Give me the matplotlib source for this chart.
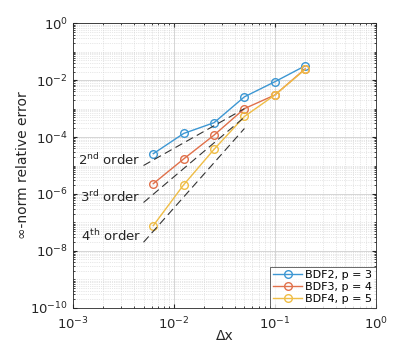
import matplotlib.pyplot as plt
from matplotlib.ticker import LogLocator, NullFormatter

# Данные сходимости
dx = [0.00625, 0.0125, 0.025, 0.05, 0.1, 0.2]
err_bdf2 = [2.6e-5, 1.34e-4, 3.2e-4, 2.6e-3, 8.8e-3, 3.2e-2]
err_bdf3 = [2.3e-6, 1.7e-5, 1.17e-4, 1.0e-3, 3.0e-3, 2.5e-2]
err_bdf4 = [7.7e-8, 2.1e-6, 3.7e-5, 5.3e-4, 3.0e-3, 2.4e-2]
labels = ['BDF2, p = 3', 'BDF3, p = 4', 'BDF4, p = 5']
colors = ['#3d97d3', '#e0704a', '#efbd45']

# Опорные линии порядка
ref_x = [5e-3, 5e-2]
ref_2 = [1e-5, 1e-3]
ref_3 = [5e-7, 5e-4]
ref_4 = [2e-8, 2e-4]
order_text = [r'2$^{\mathrm{nd}}$ order', r'3$^{\mathrm{rd}}$ order', r'4$^{\mathrm{th}}$ order']
order_y = [1.5e-5, 8.0e-7, 3.3e-8]

fig = plt.figure(figsize=(4.16, 3.47), dpi=100)
ax = fig.add_axes([73 / 416, 1 - 307.7 / 347, (375.7 - 73) / 416, (307.7 - 23.3) / 347])

for y, lab, c in zip([err_bdf2, err_bdf3, err_bdf4], labels, colors):
    ax.plot(dx, y, '-o', color=c, lw=1, ms=5.5, mfc='none', mew=1, label=lab)

for ry in [ref_2, ref_3, ref_4]:
    ax.plot(ref_x, ry, '--', color='#333333', lw=0.8, dashes=(7, 4))

for t, yy in zip(order_text, order_y):
    ax.text(4.7e-3, yy, t, ha='right', va='center', fontsize=9.5, color='#262626')

ax.set_xscale('log')
ax.set_yscale('log')
ax.set_xlim(1e-3, 1)
ax.set_ylim(1e-10, 1)

ax.set_yticks([1e-10, 1e-8, 1e-6, 1e-4, 1e-2, 1])
ax.yaxis.set_minor_locator(LogLocator(base=10, subs=[1, 2, 3, 4, 5, 6, 7, 8, 9], numticks=30))
ax.yaxis.set_minor_formatter(NullFormatter())
ax.xaxis.set_minor_locator(LogLocator(base=10, subs=[2, 3, 4, 5, 6, 7, 8, 9], numticks=30))
ax.xaxis.set_minor_formatter(NullFormatter())

ax.grid(True, which='major', color='#cfcfcf', lw=0.6, ls='-')
ax.grid(True, which='minor', color='#d0d0d0', lw=0.5, ls=':')
ax.set_axisbelow(True)

ax.tick_params(which='both', direction='in', top=True, right=True, colors='#262626', labelsize=9.5)
ax.tick_params(axis='x', which='major', pad=6)
ax.tick_params(which='major', length=3)
ax.tick_params(which='minor', length=1.5)
for s in ax.spines.values():
    s.set_color('#262626')
    s.set_linewidth(0.6)

ax.set_xlabel('Δx', fontsize=10, color='#262626')
ax.set_ylabel('∞-norm relative error', fontsize=10, color='#262626')
ax.xaxis.set_label_coords(0.5, -0.075)
ax.yaxis.set_label_coords(-0.142, 0.5)

leg = ax.legend(loc='lower right', fontsize=8, frameon=True, fancybox=False, borderaxespad=0,
                handlelength=2.6, borderpad=0.3, labelspacing=0.2, handletextpad=0.3)
leg.get_frame().set_edgecolor('#262626')
leg.get_frame().set_linewidth(0.6)

fig.savefig('out.png', dpi=100)
